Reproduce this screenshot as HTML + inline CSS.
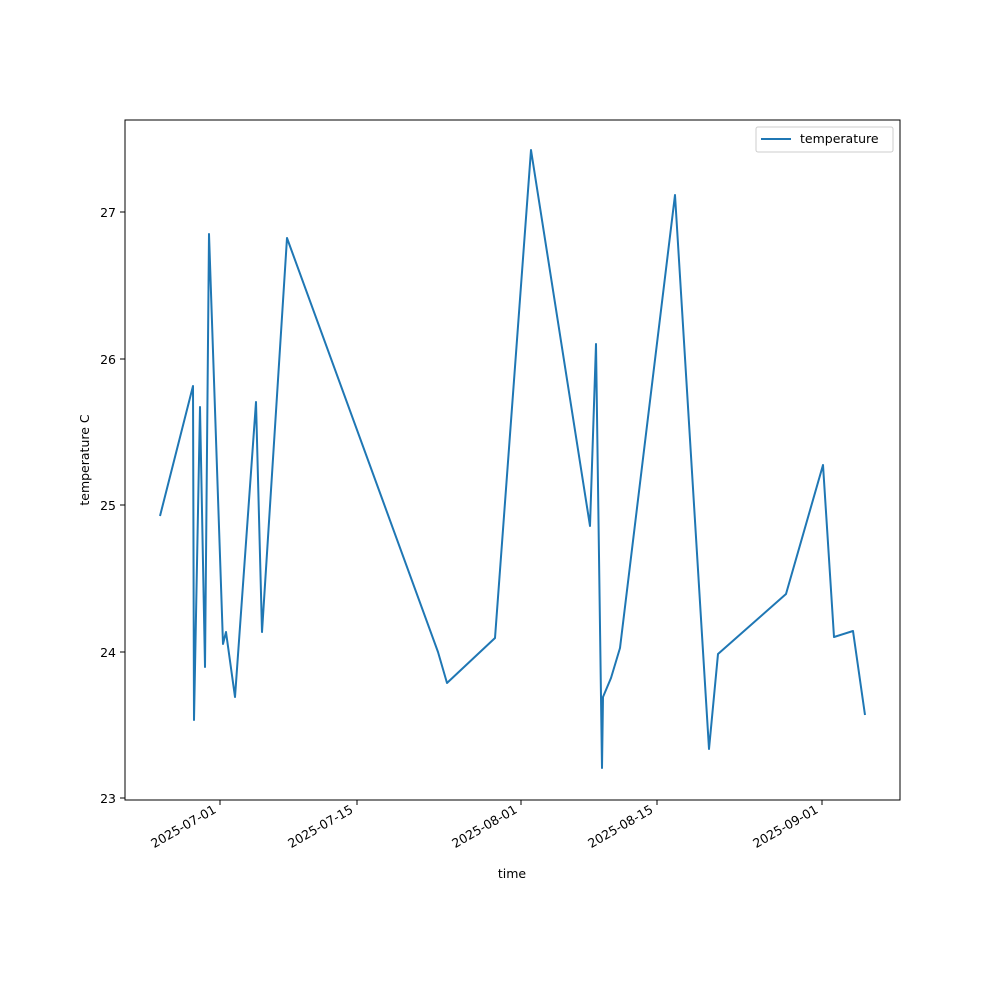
<!DOCTYPE html>
<html><head><style>body{margin:0;background:#fff}svg{display:block}text{font-family:"DejaVu Sans","Liberation Sans",sans-serif;font-size:12.5px;fill:#000}</style></head><body>
<svg width="1000" height="1000" viewBox="0 0 1000 1000">
<rect width="1000" height="1000" fill="#fff"/>
<polyline fill="none" stroke="#1f77b4" stroke-width="2" stroke-linejoin="round" points="160,516 193,386 194,720 200,407 205,667 209,234 223,644 226,632 235,697 256,402 262,632 287,238 438,652 447,683 495,638 531,150 590,526 596,344 602,768 603,697 611,678 620,648 675,195 709,749 718,654 786,594 823,465 834,637 853,631 865,715"/>
<rect x="125" y="120" width="775" height="680" fill="none" stroke="#000" stroke-width="1"/>
<g stroke="#000">
<line x1="120" x2="125" y1="798" y2="798"/><line x1="120" x2="125" y1="652" y2="652"/><line x1="120" x2="125" y1="505" y2="505"/><line x1="120" x2="125" y1="359" y2="359"/><line x1="120" x2="125" y1="212" y2="212"/>
<line x1="220" x2="220" y1="800" y2="805"/><line x1="357" x2="357" y1="800" y2="805"/><line x1="521" x2="521" y1="800" y2="805"/><line x1="657" x2="657" y1="800" y2="805"/><line x1="822" x2="822" y1="800" y2="805"/>
</g>
<g text-anchor="end">
<text x="116" y="803">23</text><text x="116" y="657">24</text><text x="116" y="510">25</text><text x="116" y="364">26</text><text x="116" y="217">27</text>
<text transform="translate(217,812) rotate(-30)">2025-07-01</text>
<text transform="translate(354,812) rotate(-30)">2025-07-15</text>
<text transform="translate(518,812) rotate(-30)">2025-08-01</text>
<text transform="translate(654,812) rotate(-30)">2025-08-15</text>
<text transform="translate(819,812) rotate(-30)">2025-09-01</text>
</g>
<text x="512" y="878" text-anchor="middle">time</text>
<text transform="translate(89,460) rotate(-90)" text-anchor="middle">temperature C</text>
<rect x="756" y="127" width="137" height="25" rx="2" fill="#fff" stroke="#ccc"/>
<line x1="761" x2="791" y1="139" y2="139" stroke="#1f77b4" stroke-width="2"/>
<text x="800" y="143">temperature</text>
</svg>
</body></html>
